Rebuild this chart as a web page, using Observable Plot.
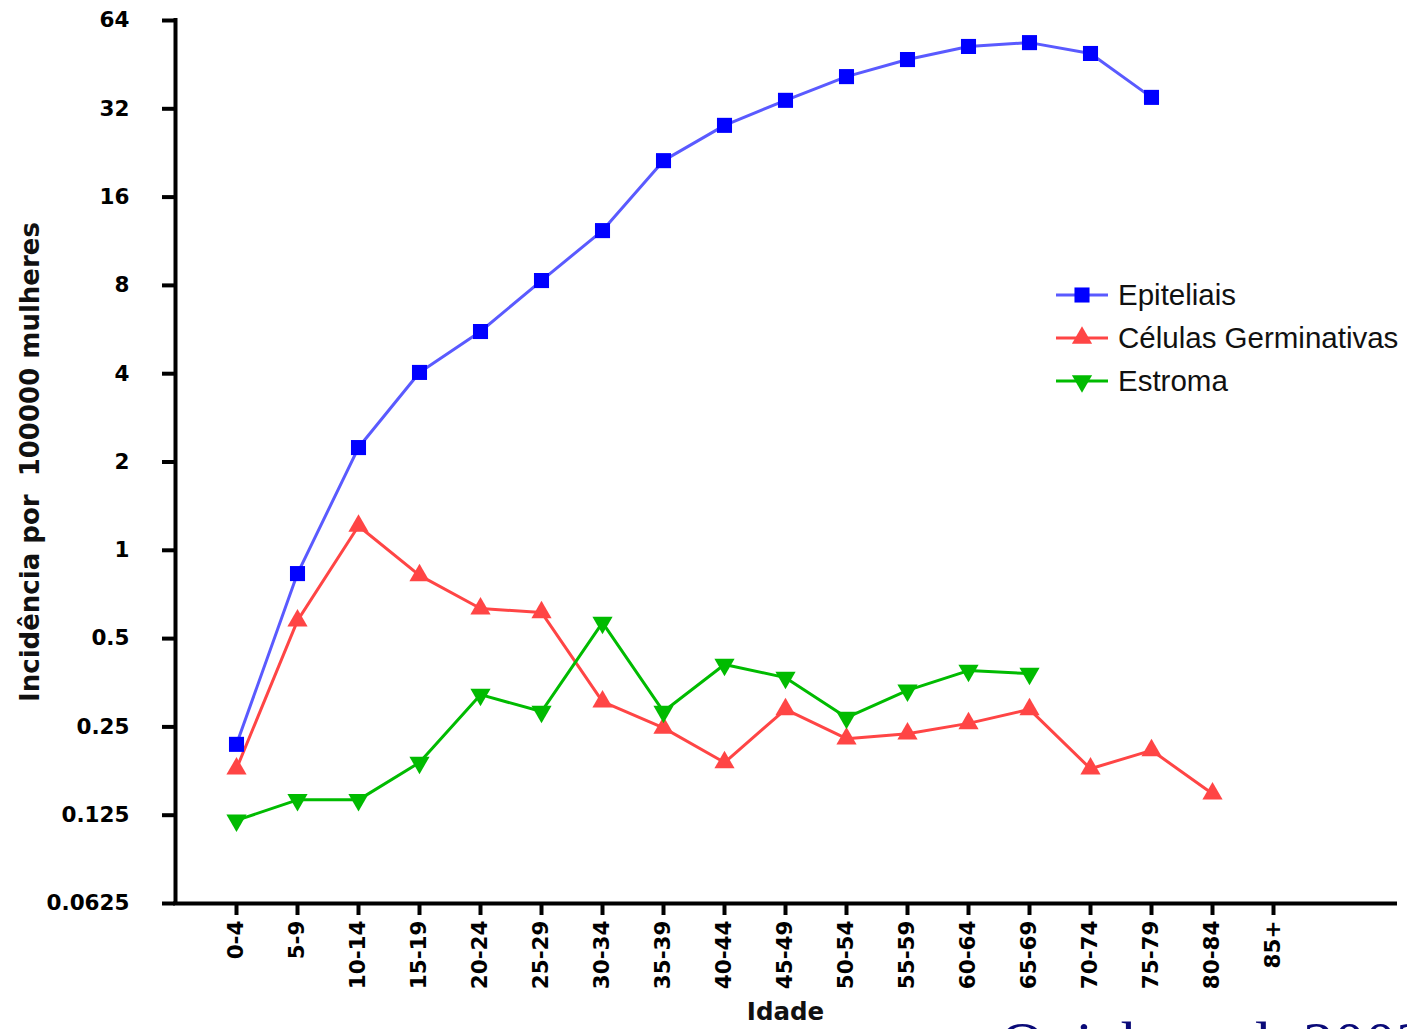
<!DOCTYPE html>
<html>
<head>
<meta charset="utf-8">
<script src="https://cdn.jsdelivr.net/npm/d3@7"></script>
<script src="https://cdn.jsdelivr.net/npm/@observablehq/plot@0.6"></script>
<style>
  html, body { margin: 0; padding: 0; background: #fff; overflow: hidden; }
  #wrap { position: relative; width: 1407px; height: 1029px; overflow: hidden; }
  #legend { position: absolute; left: 1055px; top: 273px; font-family: "Liberation Sans", Arial, sans-serif; font-size: 29.5px; color: #111; }
  #legend .row { display: flex; align-items: center; height: 43px; white-space: nowrap; }
  #legend svg { margin-right: 9px; }
  #caption { position: absolute; left: 1000px; top: 1012px; font-family: "Liberation Serif", "Times New Roman", serif; font-size: 62px; line-height: 1; color: #0a0a78; white-space: nowrap; }
</style>
</head>
<body>
<div id="wrap">
  <div id="chart"></div>
  <div id="legend"></div>
  <div id="caption">Quick et al. 2003</div>
</div>
<script>
const ages = ["0-4","5-9","10-14","15-19","20-24","25-29","30-34","35-39","40-44","45-49","50-54","55-59","60-64","65-69","70-74","75-79","80-84","85+"];
const epiteliais   = [0.218, 0.833, 2.24, 4.04, 5.57, 8.31, 12.3, 21.3, 28.1, 34.2, 41.2, 47.1, 52.2, 53.8, 49.4, 35.0, null, null];
const germinativas = [0.180, 0.576, 1.21, 0.821, 0.633, 0.614, 0.305, 0.248, 0.189, 0.287, 0.228, 0.237, 0.257, 0.287, 0.180, 0.208, 0.148, null];
const estroma      = [0.120, 0.141, 0.141, 0.189, 0.322, 0.282, 0.567, 0.282, 0.408, 0.368, 0.269, 0.333, 0.389, 0.380, null, null, null, null];
const yTicks = [0.0625, 0.125, 0.25, 0.5, 1, 2, 4, 8, 16, 32, 64];
const yTickLabels = ["0.0625", "0.125", "0.25", "0.5", "1", "2", "4", "8", "16", "32", "64"];
const seriesNames = ["Epiteliais", "Células Germinativas", "Estroma"];
const yLabel = "Incidência por  100000 mulheres";
const xLabel = "Idade";

const triangleDown = {
  draw(context, size) {
    const s3 = Math.sqrt(3);
    const y = -Math.sqrt(size / (s3 * 3));
    context.moveTo(0, -y * 2);
    context.lineTo(-s3 * y, y);
    context.lineTo(s3 * y, y);
    context.closePath();
  }
};

const styles = [
  {line: "#5a5aff", fill: "#0000ff", symbol: "square", r: 8.5},
  {line: "#ff4545", fill: "#ff4545", symbol: "triangle", r: 7.5},
  {line: "#00bb00", fill: "#00bb00", symbol: triangleDown, r: 7.5}
];
const seriesValues = [epiteliais, germinativas, estroma];

function rowsOf(values) {
  return values.map((v, i) => ({i, age: ages[i], v})).filter(d => d.v != null);
}

const marks = [];
seriesValues.forEach((vals, k) => {
  marks.push(Plot.line(rowsOf(vals), {x: "i", y: "v", stroke: styles[k].line, strokeWidth: 3}));
});
seriesValues.forEach((vals, k) => {
  marks.push(Plot.dot(rowsOf(vals), {x: "i", y: "v", symbol: styles[k].symbol, fill: styles[k].fill, stroke: "none", r: styles[k].r}));
});

const chart = Plot.plot({
  width: 1407,
  height: 1029,
  marginLeft: 175,
  marginRight: 12,
  marginTop: 20,
  marginBottom: 126,
  style: {fontFamily: "'DejaVu Sans', Verdana, sans-serif", background: "#fff", color: "#000"},
  x: {type: "linear", domain: [-1, 19]},
  y: {type: "log", base: 2, domain: [0.0625, 64]},
  marks: [
    Plot.axisY({ticks: yTicks, tickFormat: (d) => yTickLabels[yTicks.indexOf(d)], tickSize: 13, tickPadding: 33, strokeWidth: 4, fontSize: 21.5, fontWeight: "bold", label: null}),
    Plot.axisX({ticks: d3.range(ages.length), tickFormat: (d) => ages[d], tickSize: 12, tickPadding: 5, strokeWidth: 4, tickRotate: -90, fontSize: 21.5, fontWeight: "bold", label: null}),
    Plot.ruleX([-1], {stroke: "#000", strokeWidth: 4, strokeLinecap: "square"}),
    Plot.ruleY([0.0625], {stroke: "#000", strokeWidth: 4, strokeLinecap: "square"}),
    ...marks,
    Plot.text([yLabel], {frameAnchor: "left", textAnchor: "middle", lineAnchor: "middle", rotate: -90, dx: -145, fontSize: 26, fontWeight: "bold", fill: "#111"}),
    Plot.text([xLabel], {frameAnchor: "bottom", lineAnchor: "middle", dy: 109, fontSize: 24.5, fontWeight: "bold", fill: "#111"})
  ]
});
document.getElementById("chart").appendChild(chart);

// Legend
const legend = d3.select("#legend");
seriesNames.forEach((name, k) => {
  const row = legend.append("div").attr("class", "row");
  const svg = row.append("svg").attr("width", 54).attr("height", 24);
  svg.append("line").attr("x1", 1).attr("x2", 53).attr("y1", 12).attr("y2", 12)
    .attr("stroke", styles[k].line).attr("stroke-width", 3);
  const sym = typeof styles[k].symbol === "string"
    ? (styles[k].symbol === "square" ? d3.symbolSquare : d3.symbolTriangle)
    : styles[k].symbol;
  svg.append("path").attr("transform", "translate(27,12)")
    .attr("d", d3.symbol(sym, Math.PI * styles[k].r * styles[k].r)())
    .attr("fill", styles[k].fill);
  row.append("span").text(name);
});
</script>
</body>
</html>
